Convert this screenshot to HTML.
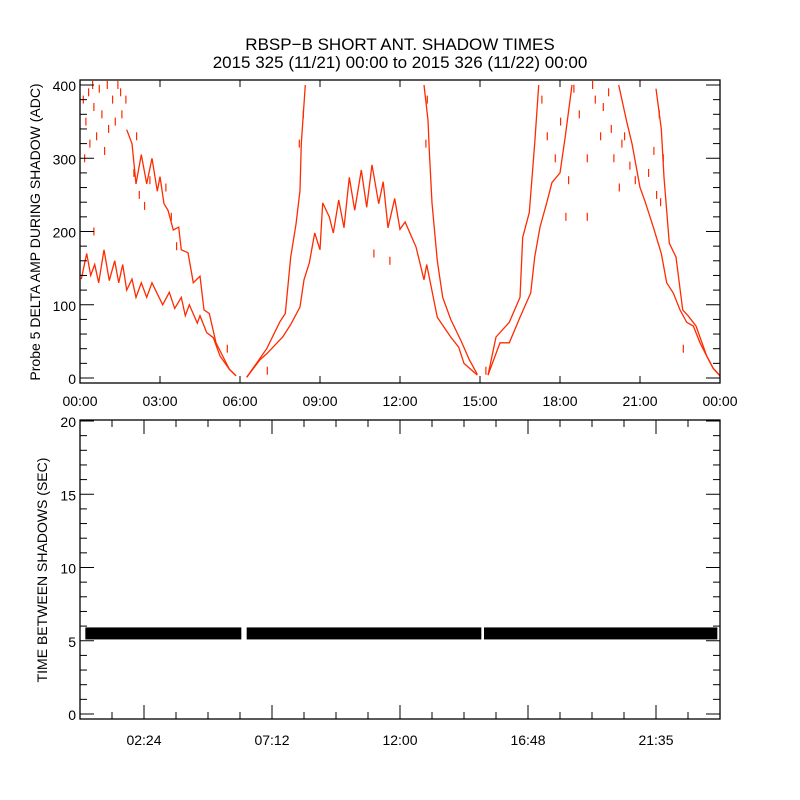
<!DOCTYPE html>
<html><head><meta charset="utf-8">
<style>
html,body{margin:0;padding:0;background:#fff;}
svg{display:block;}
text{font-family:"Liberation Sans",sans-serif;fill:#000;}
</style></head>
<body>
<svg id="chart" width="800" height="800" viewBox="0 0 800 800">
  <rect x="0" y="0" width="800" height="800" fill="#fff"/>
  <text x="400" y="50" font-size="17" text-anchor="middle">RBSP−B SHORT ANT. SHADOW TIMES</text>
  <text x="400" y="68" font-size="17" text-anchor="middle">2015 325 (11/21) 00:00 to 2015 326 (11/22) 00:00</text>
  <g id="topPanel"></g>
  <g id="botPanel"></g>
  <text transform="translate(40,232) rotate(-90)" font-size="14" text-anchor="middle">Probe 5 DELTA AMP DURING SHADOW (ADC)</text>
  <text transform="translate(47,570) rotate(-90)" font-size="14" text-anchor="middle">TIME BETWEEN SHADOWS (SEC)</text>
</svg>
<script>
const lowerHours1 = [0.05,0.25,0.4,0.55,0.7,0.9,1.1,1.3,1.45,1.6,1.75,1.95,2.1,2.3,2.5,2.7,2.9,3.1,3.35,3.55,3.8,3.95,4.1,4.4,4.5,4.75,5.0,5.25,5.6,5.85];
const lowerVals1  = [135,170,140,155,130,175,133,160,130,155,120,135,110,130,110,130,115,100,117,95,110,85,100,75,85,62,55,30,12,3];
const upperHours1 = [1.75,1.95,2.1,2.3,2.5,2.7,2.9,3.0,3.15,3.3,3.5,3.7,3.8,4.05,4.25,4.5,4.65,4.85,5.1,5.35,5.6,5.85];
const upperVals1  = [339,320,265,305,265,300,255,275,238,229,202,206,175,171,130,139,93,88,48,30,12,3];
const lowerHours2 = [6.25,6.75,7.0,7.6,7.9,8.25,8.4,8.6,8.8,9.0,9.1,9.35,9.5,9.7,9.9,10.1,10.3,10.55,10.75,10.95,11.2,11.37,11.55,11.8,12.0,12.19,12.6,12.9,13.0,13.4,13.9,14.2,14.4,14.9];
const lowerVals2  = [1,25,33,56,73,97,134,157,198,175,239,220,198,243,205,274,229,284,233,291,238,268,205,245,203,213,179,134,155,83,56,42,20,4];
const upperHours2 = [6.25,7.0,7.5,7.7,7.9,8.1,8.25,8.3,8.45];
const upperVals2  = [1,40,77,88,165,210,256,320,400];
const upperHours3 = [12.9,13.05,13.1,13.2,13.4,13.6,13.9,14.3,14.6,14.9];
const upperVals3  = [400,352,310,239,160,110,80,50,25,5];
const lowerHours3 = [15.3,15.75,16.1,16.5,16.9,17.05,17.25,17.5,17.7,18.0,18.2,18.45];
const lowerVals3  = [4,48,48,83,116,165,206,239,267,280,330,400];
const upperHours4 = [15.3,15.6,16.1,16.5,16.6,16.85,17.05,17.2];
const upperVals4  = [4,56,76,110,192,226,320,400];
const lowerHours4 = [20.2,20.5,20.7,21.0,21.2,21.5,21.8,22.0,22.25,22.5,22.75,23.0,23.25,23.5,23.75,24.0];
const lowerVals4  = [400,350,320,260,240,206,170,130,116,93,76,71,48,30,13,3];
const upperHours5 = [21.6,21.8,21.9,22.1,22.35,22.6,22.8,23.1,23.5,23.75,24.0];
const upperVals5  = [395,340,274,184,165,93,85,71,30,13,3];
const noiseHours = [0.1,0.15,0.2,0.3,0.35,0.45,0.5,0.6,0.7,0.8,0.9,1.0,1.05,1.2,1.3,1.4,1.5,1.55,2.0,2.2,2.4,2.6,3.2,3.4,3.6,0.5,2.1,5.5,1.7,
  8.2,8.35,13.0,12.95,17.3,17.5,17.8,18.0,18.3,18.5,18.7,19.0,19.3,19.5,19.6,19.8,20.0,20.2,20.4,20.6,20.8,18.2,19.2,19.9,20.3,21.3,21.5,21.7,21.75,21.85,21.6,19.0,22.6,11.6,11.0,15.2,7.0];
const noiseVals  = [380,300,350,390,320,400,370,330,395,360,310,400,340,380,350,400,390,360,280,250,235,270,260,220,180,200,330,40,380,
  320,360,380,320,380,330,300,350,270,395,360,300,380,330,370,390,300,260,330,290,270,220,400,340,320,280,310,360,240,300,250,220,40,160,170,10,10];
const segStart = [0.2, 6.25, 15.15];
const segEnd   = [6.05, 15.05, 23.9];
const segValue = [5.5, 5.5, 5.5];
const topYTicks = [0,100,200,300,400];
const topXTicks = ["00:00","03:00","06:00","09:00","12:00","15:00","18:00","21:00","00:00"];
const botYTicks = [0,5,10,15,20];
const botXTicks = ["02:24","07:12","12:00","16:48","21:35"];

const NS="http://www.w3.org/2000/svg";
function mk(tag,attrs,parent){const e=document.createElementNS(NS,tag);for(const k in attrs)e.setAttribute(k,attrs[k]);parent.appendChild(e);return e;}
const PL=80,PR=720;
const xs=h=>PL+(h/24)*(PR-PL);
const T0=80,T1=383;
const yTop=v=>378-v*0.7325;
const topG=document.getElementById('topPanel');
const clipEl=mk('clipPath',{id:'tc'},topG);mk('rect',{x:PL,y:T0,width:PR-PL,height:T1-T0},clipEl);
const seriesList=[[lowerHours1,lowerVals1],[upperHours1,upperVals1],[lowerHours2,lowerVals2],[upperHours2,upperVals2],[upperHours3,upperVals3],[lowerHours3,lowerVals3],[upperHours4,upperVals4],[lowerHours4,lowerVals4],[upperHours5,upperVals5]];
seriesList.forEach((s,i)=>{
  const p=mk('polyline',{points:s[0].map((h,j)=>xs(h).toFixed(1)+','+yTop(s[1][j]).toFixed(1)).join(' '),fill:'none',stroke:'#ff2a00','stroke-width':1.3,'clip-path':'url(#tc)'},topG);
  
  
});
noiseHours.forEach((h,i)=>{
  const r=mk('rect',{x:xs(h).toFixed(1),y:(yTop(noiseVals[i])-4).toFixed(1),width:1.2,height:8,fill:'#ff2a00','clip-path':'url(#tc)'},topG);
  
  
});
const tf=mk('rect',{x:PL,y:T0,width:PR-PL,height:T1-T0,fill:'none',stroke:'#000','stroke-width':1.3},topG);


for(let v=0;v<=400;v+=20){const y=yTop(v),len=(v%100===0)?14:7;
  mk('line',{x1:PL,x2:PL+len,y1:y,y2:y,stroke:'#000'},topG);mk('line',{x1:PR,x2:PR-len,y1:y,y2:y,stroke:'#000'},topG);}
topYTicks.forEach(v=>{const t=mk('text',{x:PL-4,y:yTop(v)+6,'font-size':14,'text-anchor':'end'},topG);t.textContent=v;
  
  });
topXTicks.forEach((lab,i)=>{const x=xs(i*3);
  mk('line',{x1:x,x2:x,y1:T1,y2:T1-7,stroke:'#000'},topG);mk('line',{x1:x,x2:x,y1:T0,y2:T0+7,stroke:'#000'},topG);
  const t=mk('text',{x:x,y:406,'font-size':14,'text-anchor':'middle'},topG);t.textContent=lab;
  
  });
const B0=420,B1=719;
const yBot=v=>714-v*14.65;
const botG=document.getElementById('botPanel');
segStart.forEach((s,i)=>{
  const r=mk('rect',{x:xs(s),y:yBot(segValue[i])-6,width:xs(segEnd[i])-xs(s),height:12,fill:'#000'},botG);
  
  
});
const bf=mk('rect',{x:PL,y:B0,width:PR-PL,height:B1-B0,fill:'none',stroke:'#000','stroke-width':1.3},botG);


for(let v=0;v<=20;v+=1){const y=yBot(v),len=(v%5===0)?14:7;
  mk('line',{x1:PL,x2:PL+len,y1:y,y2:y,stroke:'#000'},botG);mk('line',{x1:PR,x2:PR-len,y1:y,y2:y,stroke:'#000'},botG);}
botYTicks.forEach(v=>{const t=mk('text',{x:PL-4,y:yBot(v)+6,'font-size':14,'text-anchor':'end'},botG);t.textContent=v;
  
  });
for(let k=1;k<20;k++){const x=xs(k*1.2),len=(k%4===2)?14:7;
  mk('line',{x1:x,x2:x,y1:B1,y2:B1-len,stroke:'#000'},botG);mk('line',{x1:x,x2:x,y1:B0,y2:B0+len,stroke:'#000'},botG);}
botXTicks.forEach((lab,i)=>{const x=xs(2.4+i*4.8);
  const t=mk('text',{x:x,y:745,'font-size':14,'text-anchor':'middle'},botG);t.textContent=lab;
  
  });
</script>
</body></html>
